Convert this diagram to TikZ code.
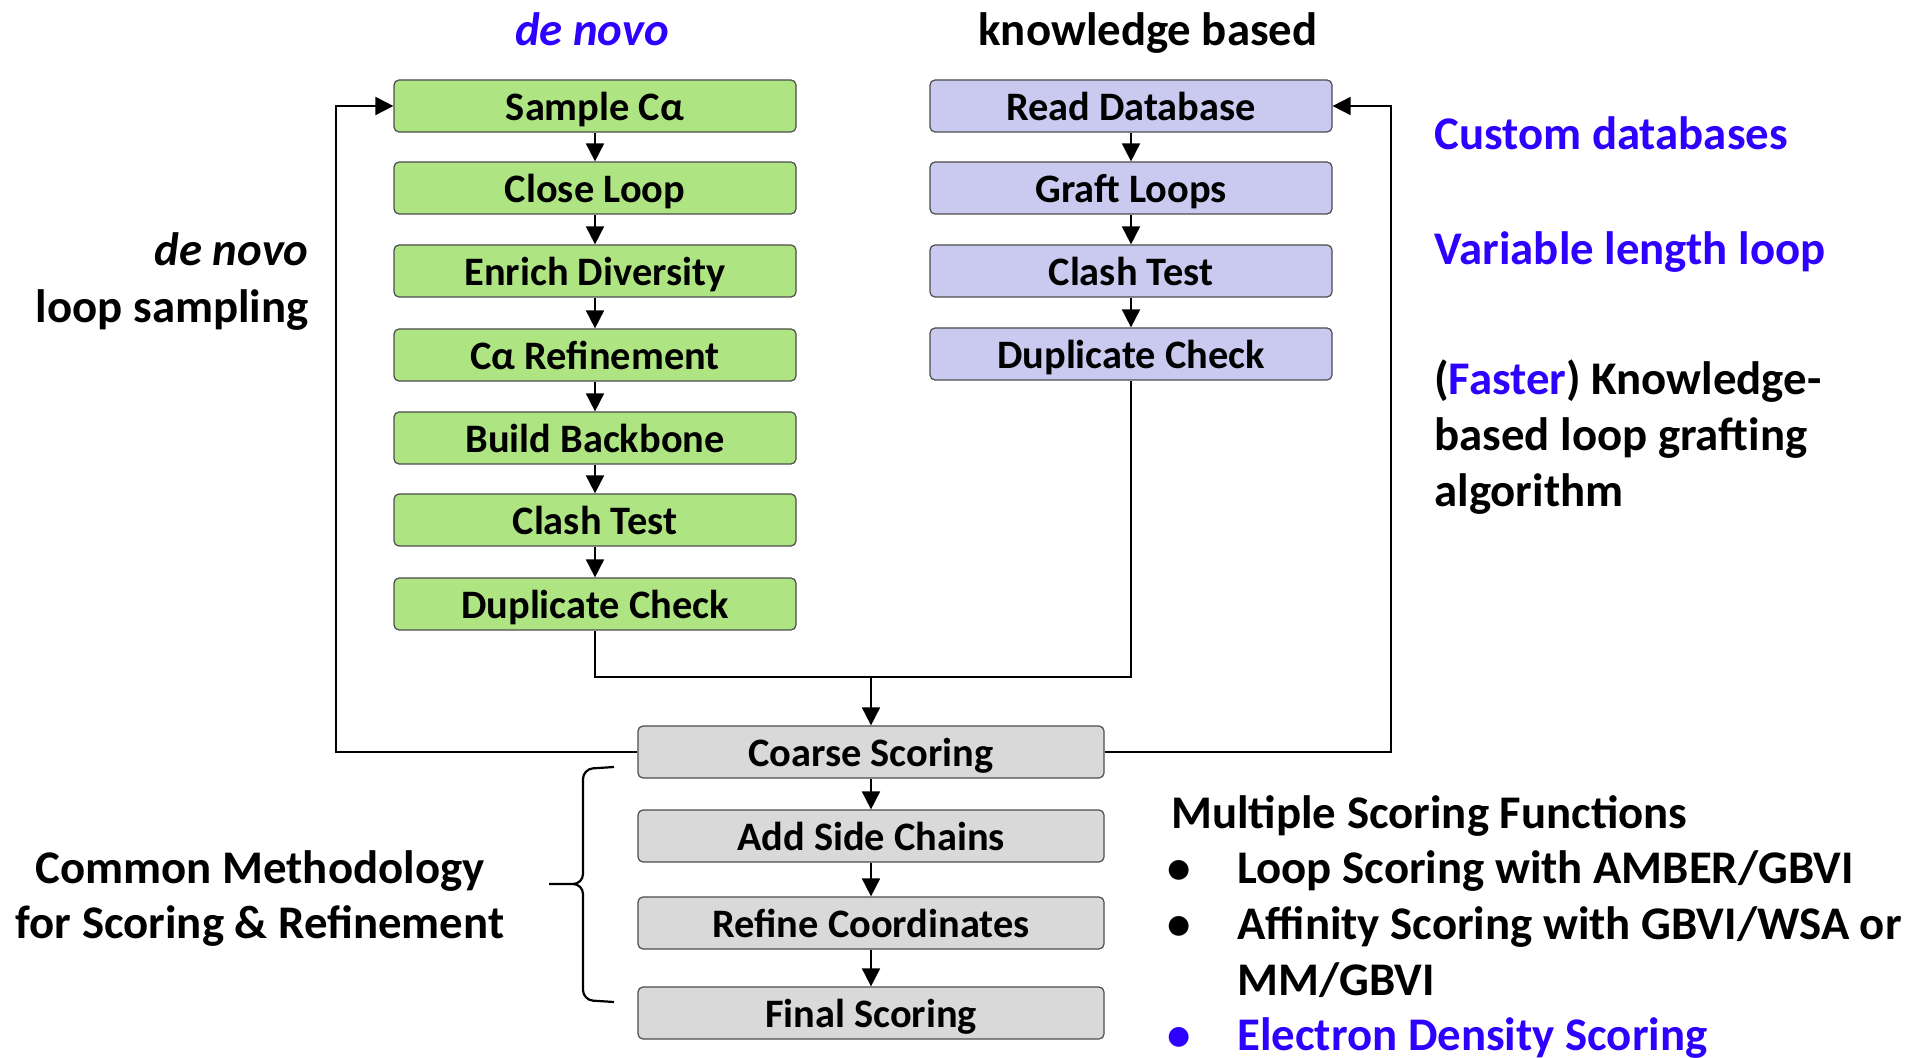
\documentclass[tikz,border=0pt]{standalone}
\usepackage{fontspec}
\setmainfont{Carlito}
\usetikzlibrary{arrows.meta}
\definecolor{boxgreen}{RGB}{174,228,130}
\definecolor{boxlilac}{RGB}{202,202,241}
\definecolor{boxgrey}{RGB}{217,217,217}
\definecolor{noteblue}{RGB}{45,0,255}
\def\boxfnt{\fontsize{20.2}{24}\selectfont\bfseries}
\def\sidefnt{\fontsize{23.4}{28}\selectfont\bfseries}
\tikzset{
	stagebox/.style={draw=black!70, line width=0.6pt, rounded corners=2.5pt, minimum width=201pt, minimum height=26pt, inner sep=0pt, text height=15.5pt, text depth=1pt, font=\boxfnt},
	denovo/.style={stagebox, fill=boxgreen},
	kbased/.style={stagebox, fill=boxlilac},
	scorebox/.style={stagebox, fill=boxgrey, minimum width=233pt},
	sidetext/.style={inner sep=0pt, font=\sidefnt},
	flow/.style={line width=0.9pt, -{Triangle[length=9pt,width=9pt]}},
	wire/.style={line width=0.9pt},
}

\begin{document}
\begin{tikzpicture}[x=0.5pt, y=-0.5pt]
		%%%%% START %%%%%
		\useasboundingbox (0, 0) rectangle (1906, 1058);
		
		% titles
		\node[sidetext, text=noteblue, anchor=base] (ttlnovo) at (592, 46) {\itshape de novo};
		\node[sidetext, anchor=base] (ttlkb) at (1148, 46) {knowledge based};
		
		% de novo column
		\node[denovo] (sca) at (595, 106) {Sample Cα};
		\node[denovo] (clo) at (595, 188) {Close Loop};
		\node[denovo] (enr) at (595, 271) {Enrich Diversity};
		\node[denovo] (car) at (595, 355) {Cα Refinement};
		\node[denovo] (bbb) at (595, 438) {Build Backbone};
		\node[denovo] (clt) at (595, 520) {Clash Test};
		\node[denovo] (dup) at (595, 604) {Duplicate Check};
		
		% knowledge based column
		\node[kbased] (rdb) at (1131, 106) {Read Database};
		\node[kbased] (gft) at (1131, 188) {Graft Loops};
		\node[kbased] (kct) at (1131, 271) {Clash Test};
		\node[kbased] (kdp) at (1131, 354) {Duplicate Check};
		
		% common scoring
		\node[scorebox] (crs) at (871, 752) {Coarse Scoring};
		\node[scorebox] (asc) at (871, 836) {Add Side Chains};
		\node[scorebox] (rfc) at (871, 923) {Refine Coordinates};
		\node[scorebox] (fsc) at (871, 1013) {Final Scoring};
		
		\draw[flow] (sca) -- (clo);
		\draw[flow] (clo) -- (enr);
		\draw[flow] (enr) -- (car);
		\draw[flow] (car) -- (bbb);
		\draw[flow] (bbb) -- (clt);
		\draw[flow] (clt) -- (dup);
		
		\draw[flow] (rdb) -- (gft);
		\draw[flow] (gft) -- (kct);
		\draw[flow] (kct) -- (kdp);
		
		\draw[flow] (crs) -- (asc);
		\draw[flow] (asc) -- (rfc);
		\draw[flow] (rfc) -- (fsc);
		
		% merge and feedback loops
		\coordinate (mrg) at (871, 677);
		\coordinate (lft) at (336, 752);
		\coordinate (rgt) at (1391, 752);
		\draw[wire] (dup.south) |- (mrg) -| (kdp.south);
		\draw[flow] (mrg) -- (crs.north);
		\draw[flow] (crs.west) -- (lft) |- (sca.west);
		\draw[flow] (crs.east) -- (rgt) |- (rdb.east);
		
		% left notes
		\node[sidetext, anchor=base east] (lpnovo) at (309, 266) {\itshape de novo};
		\node[sidetext, anchor=base east] (lpsmp) at (309, 323) {loop sampling};
		\draw[line width=1.1pt, rounded corners=5pt] (614, 767) -- (583, 769) -- (583, 884) -- (549, 884)
			(549, 884) -- (583, 884) -- (583, 1000) -- (614, 1002);
		\node[sidetext, anchor=base] (cmnmth) at (260, 883) {Common Methodology};
		\node[sidetext, anchor=base] (cmnref) at (260, 938) {for Scoring \& Refinement};
		
		% right notes
		\node[sidetext, text=noteblue, anchor=base west] (cstdb) at (1434, 150) {Custom databases};
		\node[sidetext, text=noteblue, anchor=base west] (varlen) at (1434, 265) {Variable length loop};
		\node[sidetext, anchor=base west] (faster) at (1434, 395) {(\textcolor{noteblue}{Faster}) Knowledge-};
		\node[sidetext, anchor=base west] (grft) at (1434, 451) {based loop grafting};
		\node[sidetext, anchor=base west] (algo) at (1434, 507) {algorithm};
		
		\node[sidetext, anchor=base west] (mltsc) at (1171, 828) {Multiple Scoring Functions};
		\node[sidetext, anchor=base] (bl1) at (1179, 883) {\textbullet};
		\node[sidetext, anchor=base] (bl2) at (1179, 939) {\textbullet};
		\node[sidetext, text=noteblue, anchor=base] (bl3) at (1179, 1050) {\textbullet};
		\node[sidetext, anchor=base west] (itm1) at (1237, 883) {Loop Scoring with AMBER/GBVI};
		\node[sidetext, anchor=base west] (itm2) at (1237, 939) {Affinity Scoring with GBVI/WSA or};
		\node[sidetext, anchor=base west] (itm2b) at (1237, 995) {MM/GBVI};
		\node[sidetext, text=noteblue, anchor=base west] (itm3) at (1237, 1050) {Electron Density Scoring};
		%%%%% END %%%%%
	\end{tikzpicture}
\end{document}
